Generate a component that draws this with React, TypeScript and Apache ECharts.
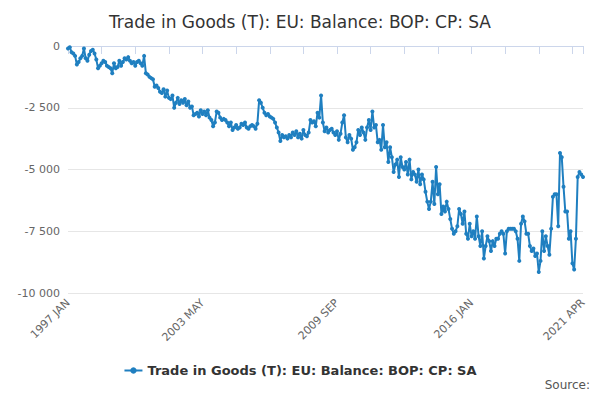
import React, { useEffect, useRef } from "react";
import * as echarts from "echarts";

const MONTHS = ["JAN","FEB","MAR","APR","MAY","JUN","JUL","AUG","SEP","OCT","NOV","DEC"];
const categories: string[] = [];
for (let y = 1997; y <= 2021; y++) for (let m = 0; m < 12; m++) { if (y === 2021 && m > 3) break; categories.push(`${y} ${MONTHS[m]}`); }

const balance = [
-100,-50,-250,-300,-400,-750,-650,-500,-400,-100,-500,-600,
-350,-200,-150,-300,-550,-900,-800,-700,-600,-650,-800,-850,
-900,-1100,-700,-900,-850,-600,-800,-650,-500,-550,-450,-600,
-700,-650,-800,-650,-600,-700,-800,-400,-1100,-1150,-1250,-1300,
-1350,-1650,-1600,-1700,-1850,-1900,-1750,-2050,-1800,-2100,-2150,-2000,
-2500,-2300,-2100,-2350,-2200,-2300,-2150,-2400,-2250,-2500,-2450,-2800,
-2750,-2700,-2850,-2600,-2750,-2650,-2800,-2600,-2900,-3000,-3250,-3100,
-2650,-2700,-2900,-3000,-2950,-3000,-3100,-3250,-3100,-3400,-3300,-3200,
-3350,-3300,-3150,-3200,-3100,-3300,-3350,-3250,-3200,-3250,-3350,-3150,
-2200,-2300,-2500,-2700,-2800,-2750,-2850,-2900,-2950,-3100,-3300,-3500,
-3850,-3600,-3700,-3650,-3750,-3600,-3700,-3500,-3600,-3450,-3700,-3550,
-3750,-3400,-3600,-3650,-3500,-3000,-3100,-3050,-3250,-2700,-2900,-2000,
-3100,-3450,-3300,-3500,-3400,-3350,-3500,-3600,-3450,-3800,-3550,-3100,
-2800,-3700,-3900,-3600,-3750,-4200,-4100,-3900,-3400,-3600,-3300,-3500,
-3800,-3300,-3000,-3400,-2650,-3300,-3200,-3900,-3800,-4200,-3200,-4100,
-3900,-4700,-4100,-4500,-5100,-4800,-4600,-5300,-4500,-4900,-5000,-4700,
-5200,-4600,-5400,-5100,-5200,-5500,-5000,-5600,-5200,-5400,-5900,-6300,
-6600,-6300,-5500,-6400,-4900,-6000,-5600,-6800,-6500,-6700,-6300,-6600,
-7000,-7400,-7600,-7500,-7300,-6600,-6800,-7200,-6700,-7600,-7800,-7200,
-7700,-7500,-7800,-6900,-7700,-8100,-7500,-8600,-8100,-7700,-7900,-8300,
-7900,-8100,-7800,-7800,-7600,-7500,-7600,-8400,-7500,-7400,-7400,-7400,
-7400,-7500,-7800,-8700,-7200,-6900,-7100,-7600,-7600,-8100,-8300,-8200,
-8500,-8400,-9150,-8700,-7500,-8300,-7700,-8100,-8450,-7400,-6100,-6000,
-6000,-7300,-4330,-4500,-5700,-6700,-6700,-7800,-7500,-8800,-9050,-7800,
-5300,-5100,-5200,-5300
];

const labelIdx = [0, 76, 152, 228, categories.length - 1];
const seriesName = "Trade in Goods (T): EU: Balance: BOP: CP: SA";

export default function App() {
  const ref = useRef<HTMLDivElement>(null);
  useEffect(() => {
    const chart = echarts.init(ref.current!, null, { renderer: "svg" });
    chart.setOption({
      animation: false,
      title: { text: seriesName, left: "center", top: 0, textStyle: { fontSize: 17, fontWeight: "normal", color: "#333", fontFamily: "DejaVu Sans" } },
      grid: { left: 60, right: 9, top: 38, bottom: 99 },
      legend: { bottom: 10, data: [seriesName], itemWidth: 18, itemHeight: 8, textStyle: { fontSize: 13, fontWeight: "bold", color: "#333", fontFamily: "DejaVu Sans" } },
      graphic: [{ type: "text", right: 2, bottom: 1, style: { text: "Source:", fontSize: 12, fill: "#555", fontFamily: "DejaVu Sans" } }],
      xAxis: {
        type: "category", data: categories, boundaryGap: false,
        axisLine: { lineStyle: { color: "#ccd6eb" } },
        axisTick: { interval: 18, lineStyle: { color: "#ccd6eb" }, length: 8 },
        axisLabel: { interval: (i: number) => labelIdx.includes(i), rotate: 45, color: "#666", fontSize: 11, fontFamily: "DejaVu Sans", showMaxLabel: true },
      },
      yAxis: {
        type: "value", min: -10000, max: 0, interval: 2500,
        axisLine: { show: false }, axisTick: { show: false },
        splitLine: { lineStyle: { color: "#e6e6e6" } },
        axisLabel: { color: "#666", fontSize: 11, fontFamily: "DejaVu Sans", formatter: (v: number) => String(v).replace(/\B(?=(\d{3})+(?!\d))/g, " ") },
      },
      series: [{
        name: seriesName, type: "line", data: balance, color: "#1f7fc0",
        symbol: "circle", symbolSize: 4, showSymbol: true, showAllSymbol: true, lineStyle: { width: 2 },
      }],
    });
    return () => chart.dispose();
  }, []);
  return <div ref={ref} style={{ width: 584, height: 384 }} />;
}
